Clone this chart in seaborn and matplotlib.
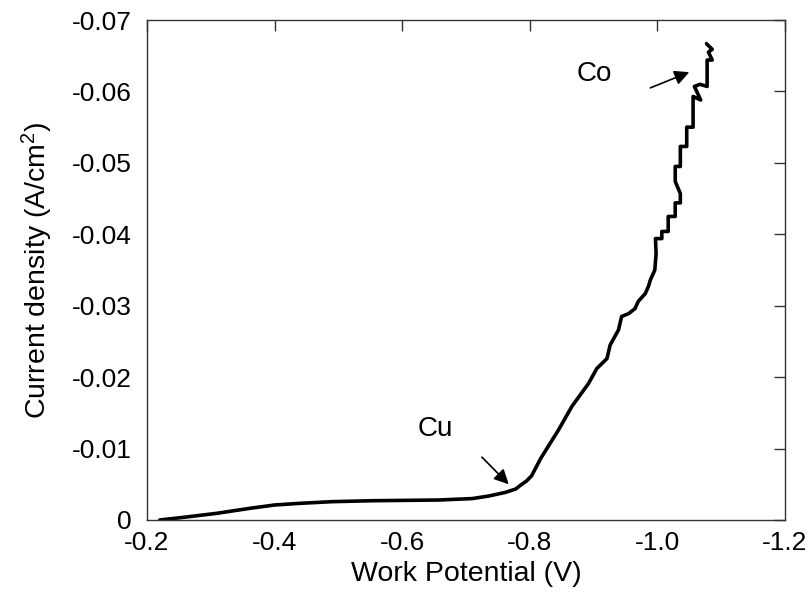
import matplotlib
matplotlib.use("Agg")
import matplotlib.pyplot as plt
import seaborn as sns
import pandas as pd

# ---- data ----
potential = [-0.220, -0.257, -0.309, -0.361, -0.400, -0.439, -0.491, -0.554, -0.658,
             -0.710, -0.736, -0.762, -0.778, -0.786, -0.795, -0.803, -0.817, -0.845,
             -0.866, -0.892, -0.905, -0.921, -0.926,
             -0.939, -0.944, -0.955, -0.965, -0.970, -0.981, -0.986, -0.989, -0.996,
             -0.998, -0.997, -1.007, -1.007, -1.017, -1.017, -1.028, -1.028, -1.036,
             -1.036, -1.028, -1.028, -1.036, -1.036, -1.046, -1.046, -1.056, -1.056,
             -1.068, -1.058, -1.067, -1.078, -1.078, -1.086, -1.080, -1.086, -1.079,
             -1.077]
current = [0.0, -0.00037, -0.00093, -0.00163, -0.0021, -0.00233, -0.00257, -0.0027, -0.0028,
           -0.0030, -0.00336, -0.00387, -0.00434, -0.0049, -0.00546, -0.0062, -0.0086, -0.0126,
           -0.0159, -0.0191, -0.0212, -0.0226, -0.0245,
           -0.0266, -0.0285, -0.0289, -0.0296, -0.0306, -0.0317, -0.0327, -0.0336, -0.0350,
           -0.0373, -0.0394, -0.0394, -0.0404, -0.0404, -0.0425, -0.0425, -0.0444, -0.0444,
           -0.0457, -0.0474, -0.0495, -0.0495, -0.0523, -0.0523, -0.0550, -0.0550, -0.0593,
           -0.0588, -0.0607, -0.0610, -0.0607, -0.0644, -0.0644, -0.0655, -0.0659, -0.0665,
           -0.0667]

x_ticks = [-0.2, -0.4, -0.6, -0.8, -1.0, -1.2]
x_tick_labels = ["-0.2", "-0.4", "-0.6", "-0.8", "-1.0", "-1.2"]
y_ticks = [0, -0.01, -0.02, -0.03, -0.04, -0.05, -0.06, -0.07]
y_tick_labels = ["0", "-0.01", "-0.02", "-0.03", "-0.04", "-0.05", "-0.06", "-0.07"]

# annotations: (label, text position, arrow tail, arrow head)
ann_labels = ["Co", "Cu"]
ann_text_xy = [(-0.9016, -0.0624), (-0.6516, -0.0127)]
ann_tail_xy = [(-0.989, -0.0605), (-0.725, -0.0088)]
ann_head_xy = [(-1.050, -0.0627), (-0.767, -0.0050)]

# ---- style ----
sns.set_style("white")
plt.rcParams["font.family"] = ["Liberation Sans", "DejaVu Sans"]
plt.rcParams["axes.unicode_minus"] = False
plt.rcParams["mathtext.default"] = "regular"
plt.rcParams["text.color"] = "black"
plt.rcParams["axes.labelcolor"] = "black"

df = pd.DataFrame({"V": potential, "J": current})

fig = plt.figure(figsize=(8.12, 6.05), dpi=100)
ax = fig.add_axes([0.181, 0.1405, 0.7857, 0.8264])

sns.lineplot(data=df, x="V", y="J", sort=False, estimator=None, color="black",
             linewidth=2.6, ax=ax)

ax.set_xlim(-0.2, -1.2)
ax.set_ylim(0, -0.07)
ax.set_xticks(x_ticks)
ax.set_xticklabels(x_tick_labels)
ax.set_yticks(y_ticks)
ax.set_yticklabels(y_tick_labels)

ax.tick_params(direction="in", length=8, width=1, top=True, right=True,
               labelsize=19, colors="#333333", labelcolor="black")
ax.tick_params(axis="y", pad=11)
ax.tick_params(axis="x", pad=8)
for s in ax.spines.values():
    s.set_linewidth(1)
    s.set_color("#333333")

ax.set_xlabel("Work Potential (V)", fontsize=20.5, labelpad=4)
ax.set_ylabel("Current density (A/cm$^2$)", fontsize=20.5, labelpad=12)

for lab, txy, tail, head in zip(ann_labels, ann_text_xy, ann_tail_xy, ann_head_xy):
    ax.text(txy[0], txy[1], lab, fontsize=20, ha="center", va="center")
    ax.annotate("", xy=head, xytext=tail,
                arrowprops=dict(arrowstyle="-|>", color="black", lw=1.2,
                                mutation_scale=22, shrinkA=0, shrinkB=0))

fig.savefig("out.png", dpi=100)
